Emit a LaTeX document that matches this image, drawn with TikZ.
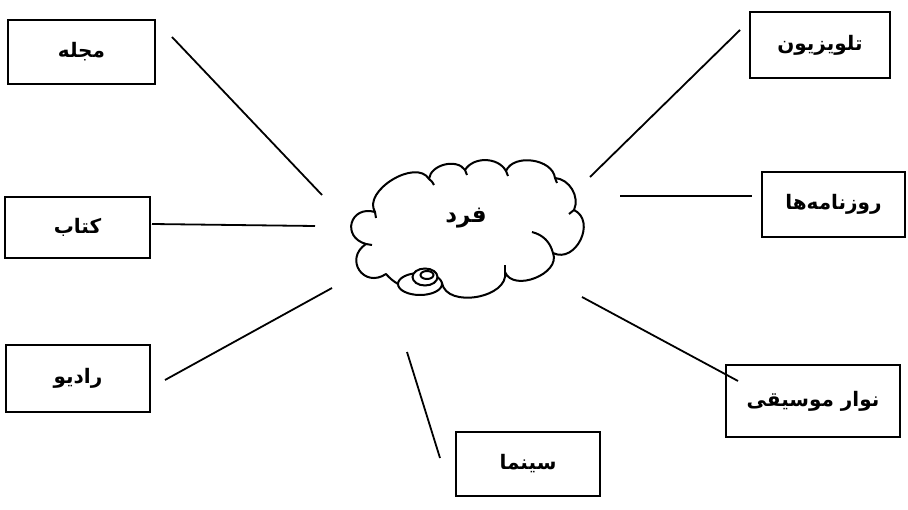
\documentclass[tikz,border=0pt]{standalone}
\usepackage{fontspec}
\newfontfamily\arabicfont[Script=Arabic]{DejaVu Sans}
\TeXXeTstate=1
\begin{document}
\begin{tikzpicture}[x=1pt,y=1pt,
  medium/.style={draw, line width=1.9pt, inner sep=0pt, font=\arabicfont\bfseries\fontsize{20}{24}\selectfont},
  link/.style={line width=1.8pt},
  puff/.style={line width=2pt}]
\useasboundingbox (0,0) rectangle (908,509);

% media boxes
\node[medium, minimum width=147pt, minimum height=64pt] (mag)   at (81.5,457)   {\beginR مجله\endR};
\node[medium, minimum width=145pt, minimum height=61pt] (book)  at (77.5,281.5) {\beginR کتاب\endR};
\node[medium, minimum width=144pt, minimum height=67pt] (radio) at (78,130.5)   {\beginR رادیو\endR};
\node[medium, minimum width=140pt, minimum height=66pt] (tv)    at (820,464)    {\beginR تلویزیون\endR};
\node[medium, minimum width=143pt, minimum height=65pt] (news)  at (833.5,304.5){\beginR روزنامه‌ها\endR};
\node[medium, minimum width=174pt, minimum height=72pt] (tape)  at (813,108)    {\beginR نوار موسیقی\endR};
\node[medium, minimum width=144pt, minimum height=64pt] (cine)  at (528,45)     {\beginR سینما\endR};

% cloud outline, puff by puff (clockwise)
\coordinate (A) at (375,297); \coordinate (B) at (429,330);
\coordinate (C) at (465,339); \coordinate (D) at (506,338);
\coordinate (E) at (555,331); \coordinate (F) at (574,299);
\coordinate (G) at (553,256); \coordinate (H) at (505,237);
\coordinate (I) at (442,226); \coordinate (J) at (386,235);
\coordinate (K) at (366,265);
\filldraw[puff, fill=white, line join=round]
  (A) to[bend left=90, looseness=1.0]  (B)
      to[bend left=70, looseness=1.0]  (C)
      to[bend left=60, looseness=1.0]  (D)
      to[bend left=75, looseness=1.0]  (E)
      to[bend left=55, looseness=1.0]  (F)
      to[bend left=90, looseness=1.35] (G)
      to[bend left=90, looseness=1.1]  (H)
      to[bend left=90, looseness=1.05] (I)
      to[bend left=40, looseness=1.0]  (J)
      to[bend left=90, looseness=1.9]  (K)
      to[bend left=90, looseness=2.0]  cycle;
% inward hooks where the puffs meet
\draw[puff] (A) -- (376,291);
\draw[puff] (B) to[bend left=15] (434,324);
\draw[puff] (C) -- (467,334);
\draw[puff] (D) -- (508,333);
\draw[puff] (E) -- (557,326);
\draw[puff] (F) -- (569,295);
\draw[puff] (532,277) to[bend left=30] (G);
\draw[puff] (H) -- (505,244);
\draw[puff] (K) -- (372,264);

% thought bubbles
\filldraw[puff, fill=white] (420,225) ellipse [x radius=22, y radius=11];
\filldraw[puff, fill=white] (425,232) ellipse [x radius=12.5, y radius=8.5];
\draw[puff] (427,234) ellipse [x radius=6.5, y radius=4];

\node[font=\arabicfont\bfseries\fontsize{23}{26}\selectfont] (person) at (466,291) {\beginR فرد\endR};

% connectors
\coordinate (m1) at (172,472); \coordinate (m2) at (322,314);
\coordinate (t1) at (740,479); \coordinate (t2) at (590,332);
\coordinate (b1) at (152,285); \coordinate (b2) at (315,283);
\coordinate (n1) at (620,313); \coordinate (n2) at (752,313);
\coordinate (r1) at (165,129); \coordinate (r2) at (332,221);
\coordinate (p1) at (582,212); \coordinate (p2) at (738,128);
\coordinate (c1) at (407,157); \coordinate (c2) at (440,51);
\draw[link] (m1) -- (m2);
\draw[link] (t1) -- (t2);
\draw[link] (b1) -- (b2);
\draw[link] (n1) -- (n2);
\draw[link] (r1) -- (r2);
\draw[link] (p1) -- (p2);
\draw[link] (c1) -- (c2);
\end{tikzpicture}
\end{document}
